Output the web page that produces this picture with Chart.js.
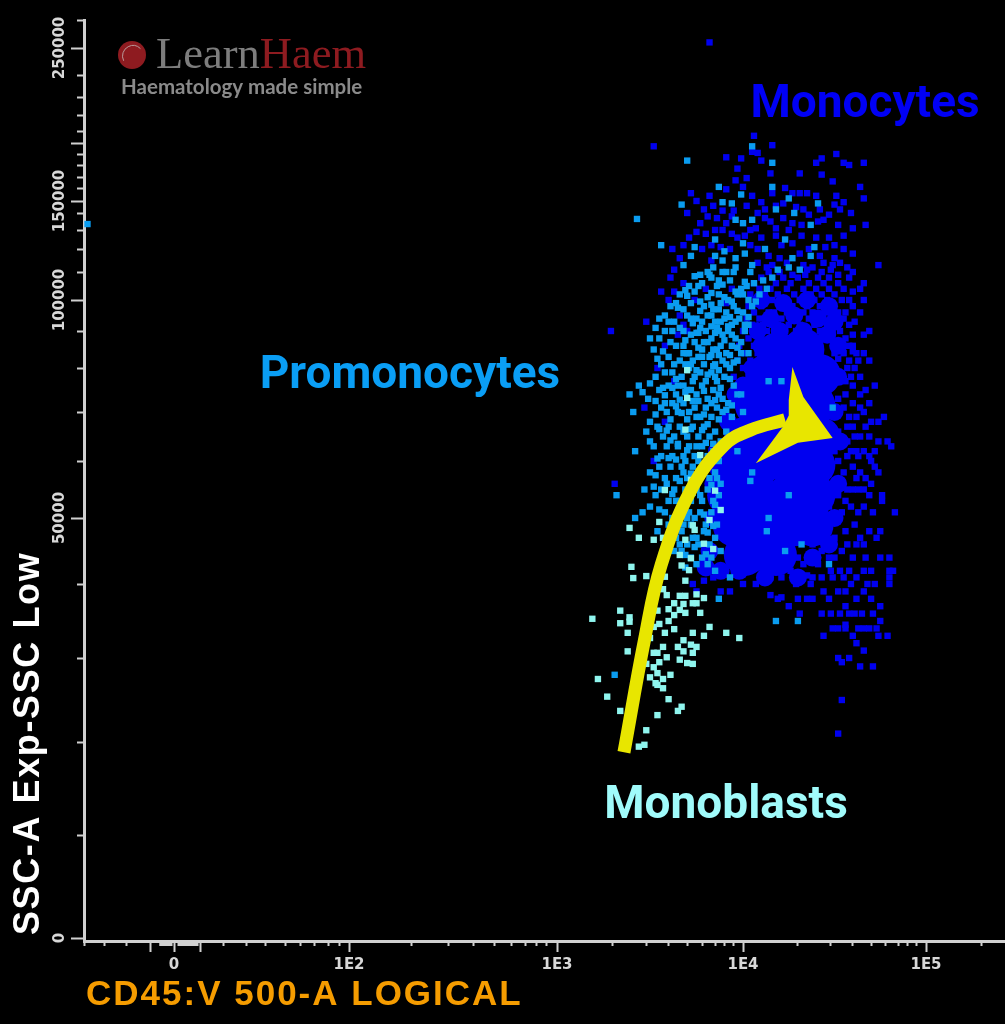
<!DOCTYPE html>
<html>
<head>
<meta charset="utf-8">
<title>CD45 vs SSC</title>
<script src="https://cdn.jsdelivr.net/npm/chart.js@4/dist/chart.umd.js"></script>
<style>
  html, body { margin: 0; padding: 0; background: #000; }
  canvas { display: block; }
</style>
</head>
<body>
<canvas id="grafico" width="1005" height="1024"></canvas>
<script>
// x = CD45 in log decades (2 = 1E2, 5 = 1E5, below 2 the logicle linear part), y = SSC in thousands
const monoblastPoints = [
  [3.19,35.3],[3.34,36.4],[3.34,34.7],[3.39,35.5],[3.39,34.9],[3.38,33.4],[3.38,30.9],[3.22,27.5],[3.27,25.4],[3.34,23.7],
  [3.48,21.4],[3.44,19.5],[3.47,19.7],[3.54,23.2],[3.65,23.7],[3.67,24.2],[3.60,25.1],[3.54,26.8],[3.57,26.4],[3.53,27.0],
  [3.50,27.7],[3.54,28.2],[3.61,28.0],[3.57,27.5],[3.48,29.3],[3.52,28.9],[3.55,29.5],[3.52,30.7],[3.54,30.7],[3.59,30.1],
  [3.57,31.5],[3.65,31.5],[3.68,32.4],[3.68,30.9],[3.72,31.8],[3.75,31.5],[3.73,30.7],[3.66,29.8],[3.70,29.4],[3.73,29.3],
  [3.50,32.7],[3.58,33.4],[3.63,33.9],[3.73,33.4],[3.79,33.0],[3.82,34.2],[3.91,33.4],[3.98,32.7],[3.55,34.6],[3.60,35.0],
  [3.52,34.2],[3.54,36.4],[3.60,36.6],[3.63,35.8],[3.66,36.5],[3.69,36.1],[3.77,36.1],[3.63,37.4],[3.68,37.3],[3.73,37.4],
  [3.75,37.4],[3.79,38.1],[3.75,38.6],[3.66,38.4],[3.69,38.4],[3.59,38.5],[3.57,39.3],[3.69,40.5],[3.58,41.1],[3.48,41.2],
  [3.40,42.6],[3.41,40.9],[3.39,48.5],[3.44,47.0],[3.52,46.7],[3.57,47.0],[3.55,49.4],[3.72,43.9],[3.69,46.7],[3.66,44.4],
  [3.82,49.7],[3.85,54.8],[3.88,51.4],[3.74,48.2],[3.58,54.9],[3.72,56.7],[3.69,66.4],[3.70,73.2],[3.70,79.5],[3.77,61.2],
  [3.73,48.9],[3.84,45.3],[3.79,46.1],[3.67,42.8],[3.71,42.1]
];

const promonocytePoints = [
  [-0.99,133.5],[3.67,147],[3.43,136.5],[3.70,184],[4.05,197],[3.87,161],[3.89,149],[3.94,148],[3.99,155],[4.16,182],
  [4.16,161],[4.25,152],[4.18,143],[4.28,140],[4.41,148],[4.37,133],[3.96,136],[4.00,134],[4.05,136],[3.56,122],
  [3.85,125],[4.12,120],[4.23,125],[4.39,121],[4.27,116],[4.37,117],[3.74,121],[3.72,117],[3.68,113],[3.85,117],
  [3.90,119],[3.89,115],[3.96,116],[4.01,118],[4.00,123],[3.84,112],[3.96,112],[4.05,113],[4.19,111],[4.31,111],
  [4.25,112],[3.82,109],[3.83,108],[3.81,110],[3.77,109],[3.89,110],[3.95,110],[4.04,110],[4.16,108],[4.11,107],
  [3.71,105],[3.78,106],[3.86,105],[3.93,107],[3.99,104],[4.06,106],[4.13,104],[3.66,102],[3.74,103],[3.81,101],
  [3.87,102],[3.92,100],[3.97,102],[4.03,100],[3.61,98],[3.68,97],[3.72,99],[3.79,98],[3.84,97],[3.88,99],
  [3.91,96],[3.95,98],[4.00,96],[4.05,98],[3.55,94],[3.63,93],[3.70,95],[3.75,94],[3.78,93],[3.81,95],
  [3.85,93],[3.90,94],[3.94,92],[3.98,94],[4.03,92],[3.50,88],[3.58,90],[3.66,91],[3.72,89],[3.77,91],
  [3.80,90],[3.83,88],[3.86,91],[3.87,90],[3.89,89],[3.92,90],[3.96,88],[4.01,90],[3.52,85],[3.61,87],
  [3.68,86],[3.74,87],[3.78,85],[3.81,87],[3.84,85],[3.88,86],[3.91,84],[3.94,86],[3.99,84],[3.56,81],
  [3.60,83],[3.66,82],[3.70,84],[3.73,82],[3.76,83],[3.79,81],[3.82,83],[3.85,81],[3.89,82],[3.93,80],
  [3.97,82],[3.44,76],[3.53,78],[3.62,79],[3.67,78],[3.71,80],[3.74,78],[3.77,79],[3.80,77],[3.83,79],
  [3.86,77],[3.90,78],[3.95,76],[3.39,74],[3.49,73],[3.55,75],[3.60,76],[3.64,74],[3.68,76],[3.72,75],
  [3.75,74],[3.78,76],[3.81,73],[3.84,75],[3.87,74],[3.92,72],[3.97,74],[3.41,70],[3.50,68],[3.56,71],
  [3.59,70],[3.62,72],[3.65,70],[3.68,72],[3.71,70],[3.74,71],[3.77,69],[3.80,71],[3.83,69],[3.86,71],
  [3.89,70],[3.94,69],[3.48,66],[3.54,67],[3.57,65],[3.60,67],[3.63,65],[3.66,67],[3.70,65],[3.73,67],
  [3.76,65],[3.79,67],[3.82,65],[3.85,66],[3.88,64],[3.91,66],[3.42,62],[3.52,63],[3.56,61],[3.59,63],
  [3.62,61],[3.65,63],[3.68,61],[3.71,63],[3.74,61],[3.78,63],[3.81,61],[3.84,62],[3.87,60],[3.50,58],
  [3.55,59],[3.58,57],[3.61,59],[3.64,57],[3.67,59],[3.70,57],[3.73,59],[3.76,57],[3.79,59],[3.82,57],
  [3.85,58],[3.88,56],[3.32,54],[3.47,55],[3.53,54],[3.56,55],[3.60,53],[3.63,55],[3.66,53],[3.69,55],
  [3.72,53],[3.75,55],[3.78,53],[3.81,55],[3.84,53],[3.87,54],[3.42,50],[3.50,52],[3.58,51],[3.62,50],
  [3.65,51],[3.68,49],[3.71,51],[3.74,50],[3.77,51],[3.80,49],[3.83,51],[3.86,49],[3.54,48],[3.46,51],
  [3.64,47],[3.67,48],[3.70,46],[3.73,47],[3.76,46],[3.79,48],[3.82,46],[3.85,47],[3.88,45],[3.67,45],
  [3.72,44],[3.75,43],[3.78,44],[3.81,43],[3.85,42],[3.69,42.5],[3.31,28],[4.49,71],[4.21,77],[4.14,77],
  [4.05,58],[4.25,54],[4.14,50],[4.13,48],[4.23,45],[4.18,35],[4.30,35],[3.87,38],[4.04,56.5],[4.47,43],
  [4.32,46],[3.93,41],[3.97,62],[4.00,70],[4.03,84],[3.99,74],
  [3.74,108.5],[3.87,107],[3.91,110],[4.01,106.5],[3.69,103.5],[3.76,105],[3.83,102.5],[3.89,105.5],[3.96,103],[4.02,105],
  [4.09,102],[3.64,99],[3.70,101.5],[3.77,99.5],[3.83,98.5],[3.90,101],[3.94,99.5],[4.00,102],[4.07,99.5],[3.58,95],
  [3.65,97.5],[3.72,94],[3.77,96.5],[3.83,95],[3.87,97],[3.93,94.5],[3.97,96.5],[4.03,94.5],[3.53,91],[3.60,93],
  [3.68,90],[3.73,92.5],[3.76,89.5],[3.83,91.5],[3.88,93],[3.92,91.5],[3.96,93],[4.01,92],[3.55,88],[3.62,90],
  [3.69,87.5],[3.75,89.5],[3.79,87],[3.85,89.5],[3.90,87.5],[3.94,89],[3.99,87],[3.57,84.5],[3.64,86],[3.71,84],
  [3.76,85.5],[3.83,83.5],[3.86,85],[3.93,83.5],[3.97,85.5],[3.54,82.5],[3.63,81],[3.68,84],[3.72,81],[3.78,83],
  [3.84,80.5],[3.87,83.5],[3.95,81.5],[3.58,79],[3.64,77.5],[3.69,81],[3.75,79.5],[3.81,78.5],[3.87,79.5],[3.91,81],
  [3.50,76.5],[3.57,75.5],[3.65,76],[3.69,74.5],[3.73,77],[3.79,74.8],[3.85,78],[3.88,75.5],[3.93,77.5],[3.46,74.5],
  [3.53,72.5],[3.58,73.8],[3.62,75.5],[3.66,72.8],[3.70,75],[3.76,72.5],[3.83,72],[3.89,73],[3.94,71.5],[3.53,69.5],
  [3.58,72],[3.64,71.3],[3.70,68.5],[3.73,72.5],[3.79,69.5],[3.85,72.7],[3.91,70.5],[3.55,66.5],[3.61,68.5],[3.67,69.8],
  [3.72,66.5],[3.75,69],[3.81,67.5],[3.87,68.5],[3.90,63.5],[3.50,64],[3.59,66.2],[3.65,63.5],[3.68,66],[3.75,63],
  [3.78,66.3],[3.84,63.5],[3.54,60.5],[3.61,64.2],[3.64,60.3],[3.70,62.2],[3.76,60],[3.80,63.7],[3.86,61],[3.53,57.5],
  [3.60,60.6],[3.66,56.5],[3.69,60],[3.72,57.8],[3.78,58],[3.84,60],[3.52,55.5],[3.59,56],[3.62,54.2],[3.68,58],
  [3.74,56],[3.77,54],[3.83,55.8],[3.86,57],[3.55,51.5],[3.60,49],[3.64,53],[3.70,50],[3.73,54.4],[3.79,50.6],
  [3.85,52.3],[3.60,47.2],[3.66,46],[3.72,49],[3.75,47],[3.81,47.8],[3.84,48.8],[3.63,45],[3.69,44.4],[3.74,45.6],
  [3.80,44.5],[3.83,44]
];

const monocytePoints = [
  [3.82,252],[3.52,197],[4.06,206],[4.16,198],[4.05,192],[4.08,191],[3.91,187],[3.99,186],[4.10,184],[3.97,177],
  [4.15,173],[4.02,169],[3.96,167],[4.31,173],[4.43,172],[4.49,166],[4.64,161],[4.51,190],[4.43,186],[4.40,182],
  [4.55,182],[4.58,180],[4.66,182],[3.72,156],[3.82,154],[3.91,159],[4.00,161],[4.05,154],[4.16,156],[4.23,160],
  [4.27,156],[4.31,156],[4.35,156],[4.40,154],[4.51,154],[4.66,152],[4.10,149],[4.18,146],[4.36,139],[4.33,143],
  [4.50,147],[4.55,149],[4.59,140],[4.53,143],[4.44,136],[4.67,133],[4.60,131],[4.27,134],[4.18,131],[4.25,130],
  [3.89,142],[3.77,134],[3.81,138],[3.86,137],[3.91,134],[3.89,130],[3.75,129],[3.80,128],[4.04,130],[4.07,131],
  [4.12,137],[3.62,120],[3.78,120],[3.83,122],[3.88,121],[3.97,126],[4.04,122],[4.08,120],[4.18,127],[4.27,123],
  [4.47,126],[4.55,127],[4.45,121],[4.36,120],[4.55,120],[4.74,113],[4.57,112],[4.49,113],[4.44,114],[4.38,112],
  [4.35,111],[4.13,112],[4.27,109],[4.43,110],[4.48,111],[3.63,111],[3.61,108],[3.68,106],[3.56,103],[3.63,103],
  [3.60,100],[3.48,93],[3.29,90],[3.65,89],[4.66,106],[4.60,103],[4.66,100],[4.69,90],[4.66,89],[4.60,86],
  [4.69,82],[4.63,82],[4.58,82],[4.72,76],[4.67,75],[4.64,74],[4.60,76],[4.77,69],[4.74,64],[4.79,64],
  [4.81,63],[4.67,67],[4.69,65],[4.66,70],[4.60,67],[4.64,65],[4.57,64],[4.69,61],[4.70,60],[4.72,59],
  [4.74,58],[4.66,55],[4.69,54],[4.63,55],[4.76,54],[4.76,53],[4.83,51],[4.71,51],[4.69,48],[4.75,48],
  [4.73,47],[4.66,46],[4.75,44],[4.80,44],[4.82,42],[4.80,42],[4.80,41],[4.80,40],[4.70,42],[4.66,42],
  [4.72,40],[4.58,42],[4.53,42],[4.49,41],[4.44,39],[4.56,39],[4.66,39],[4.70,38],[4.75,37],[4.62,38],
  [4.56,37],[4.61,36],[4.71,36],[4.53,36],[4.75,35],[4.56,34],[4.63,34],[4.69,34],[4.73,34],[4.43,36],
  [4.31,36],[4.44,33],[4.56,34.5],[4.79,33],[4.74,33],[4.62,32],[4.66,31],[4.52,30],[4.54,29.5],[4.58,30],
  [4.64,29],[4.71,29],[4.54,25],[4.52,21],[3.31,56],[3.52,60],[4.19,38],[4.15,38.5],[4.21,38.2],[3.93,39],
  [4.00,40],[4.07,40],[4.15,41],[4.21,41],[4.29,40],[4.35,38],[4.38,41],[3.88,39],[3.75,39],[3.73,40],
  [3.79,40.5],[3.84,41],[3.90,42],[3.96,41.5],[4.03,42],[4.10,42.5],[4.26,42],[4.33,43],[4.41,43],[4.47,44],
  [4.35,41.3],[4.54,45],[4.60,44],[4.64,47],[4.50,47],[4.56,48],[4.61,49],[4.45,46],[4.40,46.5],[4.36,48],
  [4.42,49],[4.48,50],[4.54,51],[4.59,52],[4.63,51],[4.47,52],[4.52,54],[4.57,55],[4.44,53],[4.50,56],
  [4.55,58],[4.60,59],[4.64,58],[4.47,59],[4.52,60],[4.57,61],[4.62,62],[4.50,62],[4.55,64],[4.52,66],
  [4.57,67],[4.62,69],[4.50,70],[4.55,71],[4.60,72],[4.52,73],[4.56,74],[3.97,72],[4.02,71],[3.97,74],
  [4.02,75],[3.99,76],[4.05,77],[3.95,78],[4.03,78],[4.53,78],[4.59,78],[4.00,80],[4.07,80],[4.50,80],
  [4.57,80],[4.61,80],[3.97,82],[4.04,82],[4.10,82],[4.52,82.5],[4.01,84],[4.08,84],[4.14,84],[4.50,84],
  [4.55,84],[4.60,84.5],[3.98,86],[4.06,86],[4.12,86],[4.17,86],[4.24,86],[4.31,86],[4.51,86],[4.58,86],
  [4.03,88],[4.10,88],[4.15,88],[4.21,88],[4.27,88],[4.36,88],[4.40,88],[4.47,88],[4.56,88],[4.00,90],
  [4.08,90],[4.13,90],[4.18,90],[4.23,90],[4.29,90],[4.34,90],[4.42,90],[4.49,90],[4.53,90],[4.05,92],
  [4.11,92],[4.16,92],[4.19,92],[4.25,92],[4.31,92],[4.39,92],[4.46,92],[4.51,92],[4.58,92],[4.02,94],
  [4.09,94],[4.12,94],[4.21,94],[4.28,94],[4.36,94],[4.41,94],[4.48,94],[4.55,94],[4.06,96],[4.14,96],
  [4.17,96],[4.24,96],[4.33,96],[4.38,96],[4.45,96],[4.52,96],[4.56,96],[4.03,98],[4.10,98],[4.20,98],
  [4.27,98],[4.35,98],[4.42,98],[4.49,98],[4.07,100],[4.16,100],[4.23,100],[4.31,100],[4.39,100],[4.46,100],
  [4.54,100],[4.58,100],[4.04,102],[4.12,102],[4.19,102],[4.28,102],[4.37,102],[4.43,102],[4.50,102],[4.09,104],
  [4.15,104],[4.24,104],[4.33,104],[4.40,104],[4.47,104],[4.55,104],[4.06,106],[4.18,106],[4.26,106],[4.36,106],
  [4.44,106],[4.52,106],[4.10,108],[4.22,108],[4.30,108],[4.41,108],[4.47,108],[3.68,92],[3.74,100],[3.80,104],
  [3.91,99],[3.58,86],[3.66,95],[3.54,80],[3.63,77],[3.47,71],[3.58,68],[3.70,90],[3.83,115],[3.94,104],
  [3.75,150],[3.84,146],[3.95,142],[4.02,146],[4.12,143],[4.22,148],[4.29,145],[4.42,143],[4.47,139],[3.70,140],
  [3.79,143],[3.94,138],[4.08,140],[4.15,135],[4.22,137],[4.32,133],[4.41,135],[4.52,133],[3.71,126],[3.85,130],
  [3.94,128],[4.01,127],[4.10,126],[4.21,122],[4.32,127],[4.40,126],[4.50,122],[3.68,122],[3.93,120],[4.14,117],
  [4.20,116],[4.31,118],[4.42,117],[4.50,116],[4.60,118],[3.66,116],[4.08,114],[4.16,113],[4.24,114],[4.33,113],
  [4.53,114],[4.60,110],[4.14,110],[4.20,110],[4.34,109],[4.52,109],[4.58,108],[4.64,104],[4.30,44],[4.38,46],
  [4.43,45],[4.50,44],[4.57,46],[4.62,46],[4.67,44],[4.37,40],[4.43,41],[4.48,42],[4.55,41],[4.62,41],
  [4.68,40],[4.30,38],[4.38,38],[4.47,38],[4.52,39],[4.59,40],[4.25,37],[4.48,36],[4.58,36],[4.65,36],
  [4.49,34],[4.52,34],[4.60,33],[4.66,34],[4.56,53],[4.60,55],[4.66,52],[4.70,56],[4.62,57],[4.67,57],
  [4.59,62],[4.63,61],[4.66,62],[4.72,62],[4.61,65],[4.70,68],[4.74,68],[4.58,69],[4.64,71],[4.69,72],
  [4.56,77],[4.64,78],[4.62,84],[4.66,84],[4.60,89],[4.61,93],[4.64,96],[4.60,98]
];

// the solid middle of the monocyte population, too dense to read single events
const monocyteCore = [
  [4.01,44.4],[4.18,44.4],[3.95,48.9],[4.12,48.9],[4.28,48.9],[4.38,48.9],[3.92,54],[4.08,54],[4.25,54],[4.39,54],
  [3.93,59.3],[4.09,59.3],[4.26,59.3],[4.39,59.3],[4.01,64.7],[4.18,64.7],[4.34,64.7],[4.42,64.7],[4.07,71.6],[4.23,71.6],
  [4.39,71.6],[4.13,78.4],[4.30,78.4],[4.42,78.4],[4.19,84],[4.33,85]
];
// its rim, still packed but with gaps
const monocyteRim = [
  [4.10,100],[4.22,99],[4.35,100],[4.47,98],[4.15,94],[4.28,95],[4.41,94],[4.50,93],[4.08,90],[4.20,90],[4.33,90],[4.46,89],
  [4.52,86],[4.10,86],[4.05,80],[4.00,76],[4.52,78],[4.50,70],[4.53,64],[4.52,56],[4.50,50],[4.47,46],[4.38,44],[4.30,41],
  [4.12,41],[3.98,42],[3.88,42],[3.82,45],[3.84,50],[3.84,56],[3.86,62],[3.92,68],[3.96,74],[3.80,42.5]
];

const arrowShaft = [[3.36,18.9],[3.47,32.4],[3.56,42.9],[3.72,54.9],[3.90,63.3],[4.04,66.3],[4.23,68.4]];
const arrowHead = [[4.27,80.3],[4.33,73.4],[4.49,64.7],[4.30,63.7],[4.07,59.6],[4.22,67.1],[4.25,69.3],[4.25,72.7]];

const xMajorTicks = [-0.27,0,0.3,2,3,4,5];
const xMajorLabels = ["","0","","1E2","1E3","1E4","1E5"];
const xMinorTicks = [
  -1.02,-0.79,-0.54,-0.16,-0.15,-0.14,-0.13,-0.12,-0.11,-0.1,-0.09,-0.08,-0.07,-0.06,-0.05,-0.04,-0.03,
  0.05,0.06,0.07,0.08,0.09,0.1,0.11,0.12,0.13,0.14,0.15,0.16,0.17,0.18,0.19,0.2,0.21,0.22,0.23,0.24,0.25,0.26,0.27,
  0.57,0.83,1.05,1.27,1.45,1.61,1.76,1.89,
  2.3,2.48,2.6,2.7,2.78,2.85,2.9,2.95,3.3,3.48,3.6,3.7,3.78,3.85,3.9,3.95,4.3,4.48,4.6,4.7,4.78,4.85,4.9,4.95,5.3
];
const yMajorTicks = [0,50,100,150,200,250];
const yMajorLabels = ["0","50000","100000","150000","","250000"];
const yMinorTicks = [10,20,30,40,60,70,80,90,110,120,130,140,160,170,180,190,210,220,230,240,260];

// tick positions of the cytometer axes are not regular, so each axis has its own calibration (value -> canvas px)
const xCalibration = [[-1.03,84],[0,174],[2,349],[3,557],[4,743],[5,926],[5.43,1005]];
const yCalibration = [[-0.3,941],[0,938],[10,835],[20,742],[30,658],[40,584],[50,518],[60,461],[70,412],[80,368],[90,331],[100,300],
  [110,272],[120,249],[130,230],[140,213],[150,201],[160,188],[170,177],[180,165],[190,154],[200,143],[210,131],[220,115],[230,97],[240,75],[250,48],[260,20]];

class CytoScale extends Chart.LinearScale {
  static id = "cyto";
  static defaults = Chart.LinearScale.defaults;
  buildTicks() {
    return this.options.tickValues.map((value) => ({ value: value }));
  }
  getPixelForValue(value) {
    const cal = this.options.calibration;
    let i = 0;
    while (i < cal.length - 2 && value > cal[i + 1][0]) i++;
    const a = cal[i], b = cal[i + 1];
    return a[1] + ((value - a[0]) / (b[0] - a[0])) * (b[1] - a[1]);
  }
  getValueForPixel(pixel) {
    const cal = this.options.calibration;
    const dir = cal[1][1] > cal[0][1] ? 1 : -1;
    let i = 0;
    while (i < cal.length - 2 && (pixel - cal[i + 1][1]) * dir > 0) i++;
    const a = cal[i], b = cal[i + 1];
    return a[0] + ((pixel - a[1]) / (b[1] - a[1])) * (b[0] - a[0]);
  }
  drawTitle() {
    const ctx = this.ctx;
    ctx.save();
    ctx.translate(this.options.titleShift[0], this.options.titleShift[1]);
    ctx.letterSpacing = this.options.titleSpacing;
    super.drawTitle();
    ctx.restore();
  }
}
Chart.register(CytoScale);

const axisColor = "#d0d0d0";
const labelFont = { family: "'DejaVu Sans'", size: 15, weight: "bold" };

const fixSize = (prop, size) => (scale) => {
  scale[prop] = size;
  scale.paddingLeft = scale.paddingRight = scale.paddingTop = scale.paddingBottom = 0;
};

const baseAxis = (position, calibration, values, min, max) => ({
  type: "cyto",
  position: position,
  calibration: calibration,
  tickValues: values,
  min: min,
  max: max,
  titleShift: [0, 0],
  titleSpacing: "0px",
  border: { display: true, color: axisColor, width: 3 },
});

const yAxis = {
  ...baseAxis("left", yCalibration, yMajorTicks, -0.3, 260),
  weight: 0,
  afterFit: fixSize("width", 84),
  titleShift: [0, -6],
  titleSpacing: "1.6px",
  grid: { drawOnChartArea: false, tickLength: 13, tickColor: axisColor, tickWidth: 2, color: axisColor },
  ticks: {
    autoSkip: false,
    minRotation: 90,
    maxRotation: 90,
    crossAlign: "center",
    padding: -20,
    color: "#d8d8d8",
    font: labelFont,
    callback: (value, i) => yMajorLabels[i],
  },
  title: {
    display: true,
    text: "SSC-A Exp-SSC Low",
    align: "start",
    color: "#ffffff",
    font: { family: "'Liberation Sans'", size: 36, weight: "bold" },
    padding: { top: 7, bottom: 0 },
  },
};

const yMinorAxis = {
  ...baseAxis("left", yCalibration, yMinorTicks, -0.3, 260),
  weight: -1,
  afterFit: fixSize("width", 0),
  border: { display: false },
  grid: { drawOnChartArea: false, tickLength: 7, tickColor: axisColor, tickWidth: 2, color: axisColor },
  ticks: { display: false, autoSkip: false },
};

const xAxis = {
  ...baseAxis("bottom", xCalibration, xMajorTicks, -1.03, 5.43),
  weight: 0,
  afterFit: fixSize("height", 83),
  titleShift: [2, 0],
  titleSpacing: "2px",
  grid: { drawOnChartArea: false, tickLength: 11, tickColor: axisColor, tickWidth: 2, color: axisColor },
  ticks: {
    autoSkip: false,
    maxRotation: 0,
    padding: 4,
    color: "#d8d8d8",
    font: labelFont,
    callback: (value, i) => xMajorLabels[i],
  },
  title: {
    display: true,
    text: "CD45:V 500-A LOGICAL",
    align: "start",
    color: "#f59c00",
    font: { family: "'Liberation Sans'", size: 35, weight: "bold" },
    padding: { top: 0, bottom: 8 },
  },
};

const xMinorAxis = {
  ...baseAxis("bottom", xCalibration, xMinorTicks, -1.03, 5.43),
  weight: -1,
  afterFit: fixSize("height", 0),
  border: { display: false },
  grid: { drawOnChartArea: false, tickLength: 5, tickColor: axisColor, tickWidth: 2, color: axisColor },
  ticks: { display: false, autoSkip: false },
};

const toXY = (list) => list.map((p) => ({ x: p[0], y: p[1] }));

const eventDots = (label, list, color, order) => ({
  label: label,
  data: toXY(list),
  order: order,
  clip: false,
  pointStyle: "rect",
  pointRadius: 4.5,
  pointHoverRadius: 4.5,
  pointBorderWidth: 0,
  backgroundColor: color,
  pointBackgroundColor: color,
});

const blueBlob = (label, list, radius, order) => ({
  label: label,
  data: toXY(list),
  order: order,
  pointStyle: "circle",
  pointRadius: radius,
  pointBorderWidth: 0,
  backgroundColor: "#0000f0",
  pointBackgroundColor: "#0000f0",
});

// population names and the logo go on top of the plot
const populationLabels = [
  { text: "Monocytes", color: "#0000f5", x: 4.667, y: 225.5 },
  { text: "Promonocytes", color: "#0a9ef5", x: 2.293, y: 78 },
  { text: "Monoblasts", color: "#a0fbfb", x: 3.909, y: 13.1 },
];

const overlay = {
  id: "overlay",
  afterDraw(chart) {
    const ctx = chart.ctx;
    ctx.save();
    ctx.textAlign = "center";
    ctx.textBaseline = "middle";
    ctx.font = "700 46px Roboto";
    populationLabels.forEach((l) => {
      ctx.fillStyle = l.color;
      ctx.fillText(l.text, chart.scales.x.getPixelForValue(l.x), chart.scales.y.getPixelForValue(l.y));
    });

    // logo
    ctx.fillStyle = "#8e1b20";
    ctx.beginPath();
    ctx.arc(132, 55, 14, 0, Math.PI * 2);
    ctx.fill();
    ctx.strokeStyle = "#b89a9a";
    ctx.lineWidth = 1;
    ctx.beginPath();
    ctx.arc(133, 56, 10.5, Math.PI * 0.85, Math.PI * 1.75);
    ctx.stroke();
    ctx.textAlign = "left";
    ctx.textBaseline = "alphabetic";
    ctx.font = "44.5px 'Liberation Serif'";
    ctx.fillStyle = "#7d7d7d";
    ctx.fillText("Learn", 156, 68);
    const w = ctx.measureText("Learn").width;
    ctx.fillStyle = "#8e1b20";
    ctx.fillText("Haem", 156 + w, 68);
    ctx.font = "bold 20.5px Lato";
    ctx.fillStyle = "#8a8a8a";
    ctx.fillText("Haematology made simple", 121, 94);
    ctx.restore();
  },
};

new Chart(document.getElementById("grafico"), {
  type: "scatter",
  data: {
    datasets: [
      {
        label: "arrow shaft",
        data: toXY(arrowShaft),
        order: 0,
        showLine: true,
        tension: 0.4,
        pointRadius: 0,
        borderColor: "#e8e600",
        borderWidth: 13,
        borderCapStyle: "butt",
      },
      {
        label: "arrow head",
        data: toXY(arrowHead),
        order: 0,
        showLine: true,
        fill: "shape",
        tension: 0,
        pointRadius: 0,
        borderWidth: 0,
        borderColor: "#e8e600",
        backgroundColor: "#e8e600",
      },
      eventDots("Monoblasts", monoblastPoints, "#8ff5ee", 1),
      eventDots("Promonocytes", promonocytePoints, "#0a9cf0", 2),
      eventDots("Monocytes", monocytePoints, "#0000f0", 3),
      blueBlob("Monocytes rim", monocyteRim, 9, 4),
      blueBlob("Monocytes core", monocyteCore, 21, 5),
    ],
  },
  options: {
    responsive: false,
    animation: false,
    devicePixelRatio: 1,
    events: [],
    layout: { autoPadding: false, padding: { top: 20, left: 0, right: 0, bottom: 0 } },
    plugins: { legend: { display: false }, tooltip: { enabled: false } },
    scales: { x: xAxis, xMinor: xMinorAxis, y: yAxis, yMinor: yMinorAxis },
  },
  plugins: [overlay],
});
</script>
</body>
</html>
